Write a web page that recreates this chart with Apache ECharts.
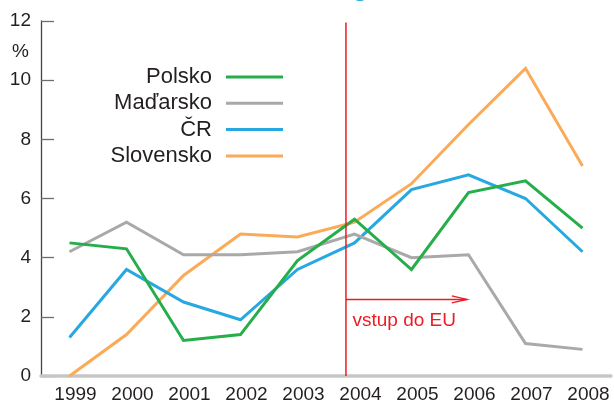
<!DOCTYPE html>
<html>
<head>
<meta charset="utf-8">
<script src="https://cdn.jsdelivr.net/npm/echarts@6/dist/echarts.min.js"></script>
<style>
  html, body { margin: 0; padding: 0; background: #fff; }
  #chart { width: 614px; height: 406px; }
</style>
</head>
<body>
<div id="chart"></div>
<script>
// ---- data ----
const years = ['1999', '2000', '2001', '2002', '2003', '2004', '2005', '2006', '2007', '2008'];
const polsko    = [4.5, 4.3, 1.2, 1.4, 3.9, 5.3, 3.6, 6.2, 6.6, 5.0];
const madarsko  = [4.2, 5.2, 4.1, 4.1, 4.2, 4.8, 4.0, 4.1, 1.1, 0.9];
const cr        = [1.3, 3.6, 2.5, 1.9, 3.6, 4.5, 6.3, 6.8, 6.0, 4.2];
const slovensko = [0.0, 1.4, 3.4, 4.8, 4.7, 5.2, 6.5, 8.5, 10.4, 7.1];
const yTicks = [0, 2, 4, 6, 8, 10, 12];
const legendNames = ['Polsko', 'Maďarsko', 'ČR', 'Slovensko'];
// EU entry annotation (position in category units: 0 = 1999)
const euEntryX = 4.85;
const euArrowEndX = 6.97;
const euArrowY = 2.59;
const euLineTop = 11.95;
const euLabel = 'vstup do EU';
const unitLabel = '%';
const titleFragment = 'o';

const colors = {
  Polsko: '#25ae4a',
  'Maďarsko': '#a9a9a9',
  'ČR': '#27a8e0',
  Slovensko: '#fbaa57'
};
const red = '#ec1c24';
const font = 'Liberation Sans, Arial, Helvetica, sans-serif';

const chart = echarts.init(document.getElementById('chart'));

function lineSeries(name, data) {
  return {
    name: name,
    type: 'line',
    data: data,
    symbol: 'none',
    xAxisIndex: 0,
    yAxisIndex: 0,
    itemStyle: { color: colors[name] },
    lineStyle: { color: colors[name], width: 3, join: 'miter' },
    emphasis: { disabled: true },
    silent: true
  };
}

const option = {
  animation: false,
  backgroundColor: '#fff',
  textStyle: { fontFamily: font },
  grid: { left: 41, top: 21, width: 570, bottom: 30, containLabel: false },
  legend: {
    orient: 'vertical',
    align: 'right',
    left: 102,
    top: 66,
    padding: 0,
    itemGap: 4.3,
    icon: 'rect',
    itemWidth: 57,
    itemHeight: 3,
    selectedMode: false,
    data: legendNames,
    textStyle: {
      fontFamily: font,
      fontSize: 22,
      color: '#231f20',
      lineHeight: 22,
      width: 110,
      align: 'right',
      padding: [0, 9, 0, 0]
    }
  },
  xAxis: [
    {
      type: 'category',
      data: years,
      boundaryGap: true,
      axisLine: { show: true, lineStyle: { color: '#c6c6c6', width: 3.5 } },
      axisTick: { show: false },
      axisLabel: {
        fontFamily: font,
        fontSize: 19,
        color: '#231f20',
        margin: 9,
        padding: [0, 0, 0, 12]
      },
      splitLine: { show: false },
      z: 3
    },
    {
      type: 'value',
      min: -0.5,
      max: 9.5,
      show: false,
      position: 'bottom'
    }
  ],
  yAxis: {
    type: 'value',
    min: 0,
    max: 12,
    interval: 2,
    axisLine: { show: true, onZero: false, lineStyle: { color: '#444', width: 1.3 } },
    axisTick: { show: true, inside: true, length: 13, lineStyle: { color: '#6d6d6d', width: 1.3 } },
    axisLabel: {
      fontFamily: font,
      fontSize: 19,
      color: '#231f20',
      margin: 10,
      formatter: function (v) { return yTicks.indexOf(v) >= 0 ? String(v) : ''; }
    },
    splitLine: { show: false }
  },
  graphic: [
    {
      type: 'text',
      x: 29,
      y: 52,
      style: {
        text: unitLabel,
        font: '19px ' + font,
        fill: '#231f20',
        align: 'right',
        verticalAlign: 'middle'
      }
    },
    {
      type: 'text',
      x: 360,
      y: -6,
      style: {
        text: titleFragment,
        font: 'bold 26px ' + font,
        fill: '#27a8e0',
        align: 'center',
        verticalAlign: 'middle'
      }
    }
  ],
  series: [
    lineSeries('Slovensko', slovensko),
    lineSeries('ČR', cr),
    lineSeries('Maďarsko', madarsko),
    lineSeries('Polsko', polsko),
    {
      type: 'custom',
      xAxisIndex: 1,
      yAxisIndex: 0,
      clip: false,
      silent: true,
      z: 5,
      data: [[euEntryX, euLineTop, euArrowEndX, euArrowY]],
      renderItem: function (params, api) {
        const top = api.coord([api.value(0), api.value(1)]);
        const bottom = api.coord([api.value(0), 0]);
        const aStart = api.coord([api.value(0), api.value(3)]);
        const aEnd = api.coord([api.value(2), api.value(3)]);
        return {
          type: 'group',
          children: [
            {
              type: 'line',
              shape: { x1: top[0], y1: top[1], x2: bottom[0], y2: bottom[1] },
              style: { stroke: red, lineWidth: 1.5 }
            },
            {
              type: 'line',
              shape: { x1: aStart[0], y1: aStart[1], x2: aEnd[0], y2: aEnd[1] },
              style: { stroke: red, lineWidth: 1.5 }
            },
            {
              type: 'polyline',
              shape: { points: [[aEnd[0] - 15, aEnd[1] - 3.5], [aEnd[0], aEnd[1]], [aEnd[0] - 15, aEnd[1] + 3.5]] },
              style: { stroke: red, lineWidth: 1.5, fill: null }
            },
            {
              type: 'text',
              x: aStart[0] + 6.5,
              y: aStart[1] + 21,
              style: {
                text: euLabel,
                font: '19px ' + font,
                fill: red,
                align: 'left',
                verticalAlign: 'middle'
              }
            }
          ]
        };
      }
    }
  ]
};

chart.setOption(option);
</script>
</body>
</html>
